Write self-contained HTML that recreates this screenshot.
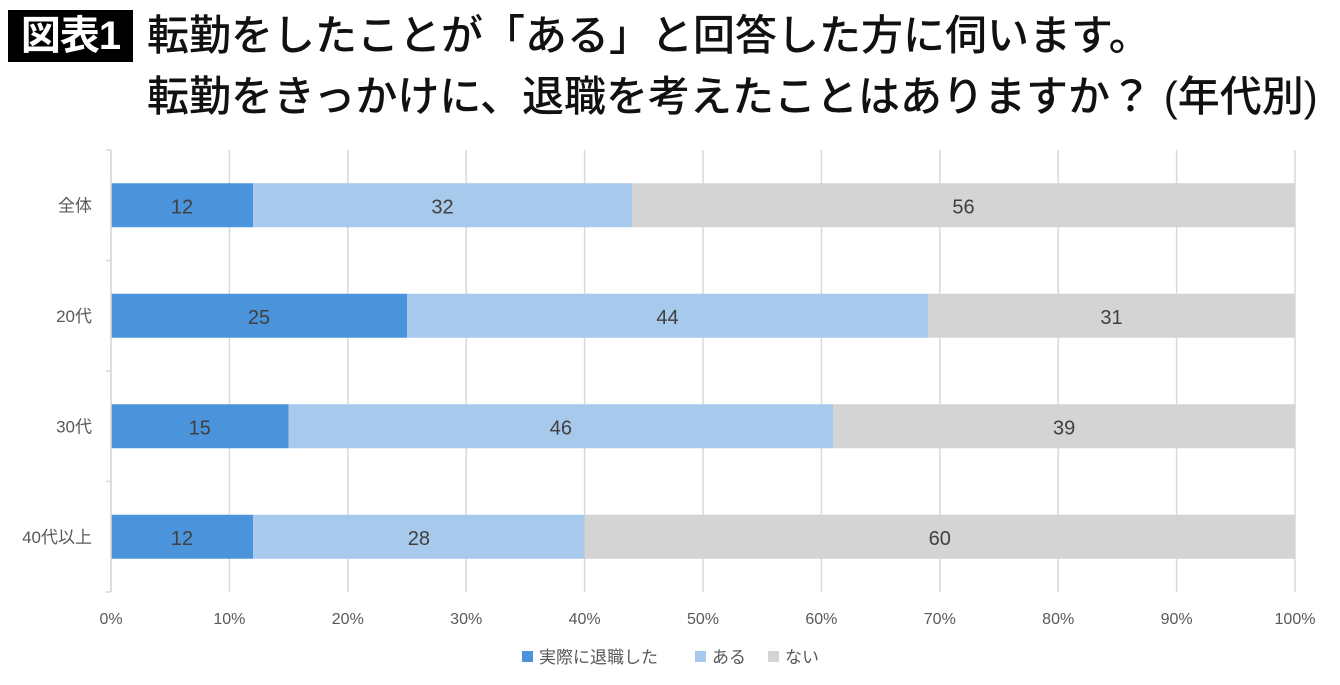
<!DOCTYPE html>
<html><head><meta charset="utf-8">
<style>
body{margin:0;width:1340px;height:685px;background:#fff;overflow:hidden;font-family:"Liberation Sans","Noto Sans CJK JP",sans-serif;}
#badge{position:absolute;left:8px;top:10px;width:125px;height:52px;background:#000;color:#fff;font-size:40px;font-weight:bold;line-height:52px;text-align:center;letter-spacing:-1px;}
.t{position:absolute;left:147px;font-size:42px;font-weight:500;color:#111;white-space:nowrap;line-height:52px;}
svg{position:absolute;left:0;top:0;}
</style></head><body>
<div id="badge">図表1</div>
<div class="t" style="top:10px">転勤をしたことが「ある」と回答した方に伺います。</div>
<div class="t" style="top:71px">転勤をきっかけに、退職を考えたことはありますか？ (年代別)</div>
<svg id="chart" width="1340" height="685"></svg>
<script>
const categories=["全体","20代","30代","40代以上"];
const seriesNames=["実際に退職した","ある","ない"];
const s1=[12,25,15,12];
const s2=[32,44,46,28];
const s3=[56,31,39,60];
const tickLabels=["0%","10%","20%","30%","40%","50%","60%","70%","80%","90%","100%"];
const colors=["#4b93da","#a6c9ec","#d4d4d4"];
const NS="http://www.w3.org/2000/svg";
const svg=document.getElementById('chart');
const X0=111,X1=1295,Y0=150,Y1=592;
const band=(Y1-Y0)/categories.length;
const x=v=>X0+(X1-X0)*v/100;
function mk(t,a){const e=document.createElementNS(NS,t);for(const k in a)e.setAttribute(k,a[k]);svg.appendChild(e);return e;}
tickLabels.forEach((t,i)=>{
  const xx=x(i*10);
  const g=mk('line',{x1:xx,x2:xx,y1:Y0,y2:Y1,stroke:'#d9d9d9','stroke-width':1.5});
  
  
  const l=mk('text',{x:xx,y:624,'text-anchor':'middle','font-size':16,fill:'#595959'});
  l.textContent=t;
  
  
});
for(let i=0;i<=categories.length;i++){
  const yy=Y0+band*i;
  const tk=mk('line',{x1:106,x2:X0,y1:yy,y2:yy,stroke:'#d9d9d9','stroke-width':1.5});
  
  
}
const series=[s1,s2,s3];
categories.forEach((c,i)=>{
  const yc=Y0+band*(i+0.5);
  const lab=mk('text',{x:92,y:yc+6,'text-anchor':'end','font-size':17,fill:'#595959'});
  lab.textContent=c;
  
  
  let acc=0;
  series.forEach((s,j)=>{
    const v=s[i];
    const r=mk('rect',{x:x(acc),y:yc-22,width:x(acc+v)-x(acc),height:44,fill:colors[j]});
    
    
    const tx=mk('text',{x:(x(acc)+x(acc+v))/2,y:yc+8,'text-anchor':'middle','font-size':20,fill:'#404040'});
    tx.textContent=v;
    
    
    acc+=v;
  });
});
const ax=mk('line',{x1:X0,x2:X0,y1:Y0,y2:Y1,stroke:'#d9d9d9','stroke-width':1.5});


const legX=[522,695,768];
seriesNames.forEach((n,j)=>{
  const r=mk('rect',{x:legX[j],y:651,width:11,height:11,fill:colors[j]});
  
  
  const t=mk('text',{x:legX[j]+17,y:663,'font-size':17,fill:'#595959'});
  t.textContent=n;
  
  
});
</script>
</body></html>
